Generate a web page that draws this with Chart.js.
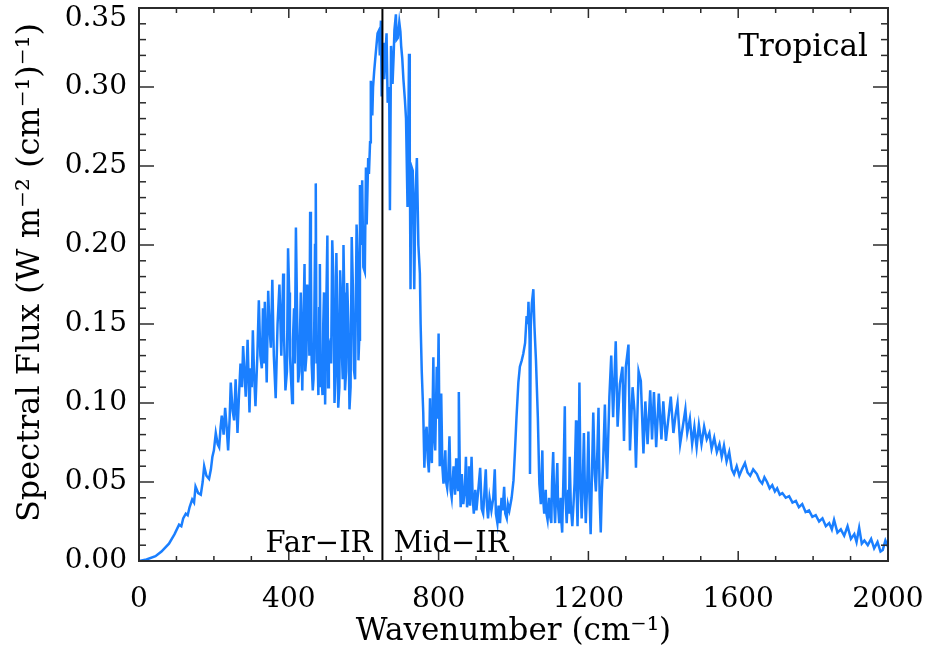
<!DOCTYPE html>
<html>
<head>
<meta charset="utf-8">
<title>Tropical spectral flux</title>
<script src="https://cdn.jsdelivr.net/npm/chart.js@4.4.1/dist/chart.umd.min.js"></script>
<style>
  html, body { margin: 0; padding: 0; background: #fff; }
</style>
</head>
<body>
<canvas id="spectrumChart" width="928" height="651"></canvas>
<script>
// wavenumber (cm-1) and spectral flux (W m-2 (cm-1)-1), 10 per row
const wavenumber = [
  0, 20, 44, 60, 80, 95, 107, 113, 118, 125,
  130, 135, 142, 147, 151, 158, 165, 170, 174, 180,
  187, 192, 196, 200, 205, 210, 214, 218, 221, 226,
  230, 234, 238, 242, 245, 250, 254, 258, 263, 267,
  271, 275, 278, 282, 285, 290, 295, 298, 301, 304,
  307, 311, 316, 320, 324, 328, 331, 333, 336, 341,
  345, 348, 352, 356, 360, 365, 370, 375, 380, 385,
  387, 391, 395, 398, 401, 403, 406, 409, 411, 414,
  416, 419, 422, 425, 428, 432, 434, 436, 439, 442,
  444, 447, 449, 452, 455, 457, 459, 461, 464, 466,
  468, 470, 472, 474, 476, 479, 481, 483, 485, 487,
  490, 492, 494, 497, 500, 503, 505, 507, 510, 513,
  516, 519, 522, 525, 527, 530, 532, 535, 537, 540,
  542, 544, 546, 548, 550, 553, 556, 559, 562, 565,
  568, 571, 574, 577, 581, 584, 586, 588, 590, 593,
  596, 599, 603, 606, 608, 612, 614, 617, 619, 623,
  625, 628, 632, 637, 641, 643, 646, 648, 650, 653,
  655, 658, 661, 664, 668, 670, 673, 677, 680, 682,
  686, 688, 691, 695, 698, 700, 703, 706, 710, 713,
  717, 719, 721, 723, 725, 727, 731, 735, 738, 742,
  746, 750, 752, 755, 759, 762, 765, 768, 771, 774,
  777, 779, 782, 786, 788, 791, 795, 797, 800, 803,
  805, 807, 810, 813, 818, 820, 823, 826, 829, 832,
  835, 840, 844, 847, 849, 852, 854, 857, 859, 862,
  866, 870, 873, 876, 879, 881, 884, 888, 891, 894,
  898, 901, 906, 911, 915, 919, 922, 926, 929, 932,
  936, 941, 946, 950, 953, 957, 960, 964, 968, 971,
  975, 978, 982, 985, 989, 995, 1000, 1004, 1008, 1013,
  1017, 1022, 1026, 1031, 1035, 1038, 1040, 1043, 1044, 1046,
  1049, 1053, 1056, 1060, 1065, 1069, 1073, 1077, 1079, 1082,
  1086, 1088, 1091, 1095, 1098, 1101, 1103, 1106, 1109, 1111,
  1114, 1117, 1119, 1122, 1126, 1128, 1130, 1134, 1137, 1139,
  1142, 1146, 1148, 1150, 1153, 1157, 1160, 1163, 1167, 1169,
  1171, 1174, 1176, 1179, 1182, 1185, 1188, 1191, 1193, 1197,
  1200, 1203, 1206, 1210, 1213, 1217, 1220, 1224, 1227, 1230,
  1233, 1236, 1239, 1244, 1247, 1250, 1256, 1261, 1266, 1273,
  1278, 1284, 1291, 1295, 1300, 1307, 1311, 1318, 1323, 1327,
  1334, 1340, 1347, 1352, 1358, 1365, 1370, 1375, 1381, 1388,
  1395, 1400, 1407, 1414, 1420, 1427, 1433, 1438, 1445, 1452,
  1459, 1464, 1471, 1477, 1483, 1489, 1495, 1502, 1509, 1516,
  1523, 1529, 1536, 1543, 1550, 1556, 1562, 1569, 1576, 1583,
  1589, 1596, 1603, 1610, 1618, 1625, 1632, 1640, 1650, 1657,
  1664, 1670, 1677, 1684, 1691, 1698, 1704, 1711, 1718, 1727,
  1736, 1745, 1754, 1762, 1771, 1780, 1789, 1798, 1807, 1816,
  1825, 1834, 1843, 1850, 1856, 1865, 1874, 1883, 1892, 1901,
  1910, 1916, 1923, 1930, 1937, 1946, 1955, 1963, 1972, 1980,
  1986, 1993, 2000
];
const flux = [
  0.000, 0.001, 0.003, 0.006, 0.011, 0.017, 0.023, 0.022, 0.027, 0.030,
  0.029, 0.034, 0.039, 0.037, 0.047, 0.043, 0.042, 0.050, 0.060, 0.054,
  0.052, 0.058, 0.066, 0.070, 0.081, 0.074, 0.072, 0.085, 0.092, 0.080,
  0.097, 0.085, 0.070, 0.090, 0.113, 0.095, 0.089, 0.115, 0.081, 0.105,
  0.125, 0.110, 0.136, 0.118, 0.104, 0.140, 0.094, 0.122, 0.110, 0.146,
  0.120, 0.098, 0.130, 0.165, 0.130, 0.122, 0.160, 0.125, 0.164, 0.113,
  0.171, 0.150, 0.135, 0.178, 0.130, 0.103, 0.150, 0.175, 0.130, 0.182,
  0.145, 0.108, 0.120, 0.198, 0.170, 0.130, 0.115, 0.100, 0.140, 0.160,
  0.125, 0.211, 0.160, 0.113, 0.120, 0.170, 0.140, 0.108, 0.150, 0.188,
  0.120, 0.130, 0.175, 0.165, 0.130, 0.221, 0.190, 0.125, 0.108, 0.115,
  0.150, 0.200, 0.239, 0.125, 0.140, 0.105, 0.160, 0.188, 0.110, 0.120,
  0.105, 0.150, 0.170, 0.099, 0.160, 0.206, 0.110, 0.135, 0.138, 0.125,
  0.203, 0.180, 0.100, 0.120, 0.195, 0.150, 0.097, 0.110, 0.184, 0.165,
  0.130, 0.115, 0.200, 0.170, 0.108, 0.120, 0.176, 0.150, 0.096, 0.110,
  0.205, 0.175, 0.121, 0.115, 0.213, 0.190, 0.127, 0.140, 0.238, 0.200,
  0.241, 0.186, 0.183, 0.249, 0.213, 0.255, 0.245, 0.265, 0.304, 0.282,
  0.300, 0.310, 0.321, 0.334, 0.336, 0.320, 0.342, 0.294, 0.315, 0.328,
  0.305, 0.320, 0.334, 0.290, 0.300, 0.222, 0.326, 0.302, 0.320, 0.336,
  0.346, 0.330, 0.331, 0.341, 0.335, 0.326, 0.318, 0.305, 0.292, 0.280,
  0.224, 0.270, 0.321, 0.260, 0.172, 0.250, 0.247, 0.172, 0.230, 0.255,
  0.200, 0.182, 0.150, 0.120, 0.094, 0.059, 0.080, 0.085, 0.065, 0.056,
  0.103, 0.070, 0.062, 0.129, 0.080, 0.070, 0.123, 0.090, 0.144, 0.060,
  0.075, 0.106, 0.060, 0.049, 0.070, 0.050, 0.046, 0.055, 0.079, 0.045,
  0.040, 0.060, 0.042, 0.065, 0.050, 0.045, 0.107, 0.050, 0.034, 0.055,
  0.036, 0.045, 0.066, 0.034, 0.040, 0.060, 0.035, 0.066, 0.040, 0.030,
  0.045, 0.032, 0.045, 0.059, 0.033, 0.030, 0.042, 0.058, 0.035, 0.027,
  0.040, 0.032, 0.040, 0.058, 0.030, 0.024, 0.035, 0.024, 0.040, 0.032,
  0.047, 0.030, 0.027, 0.036, 0.032, 0.040, 0.051, 0.070, 0.091, 0.113,
  0.123, 0.127, 0.131, 0.138, 0.155, 0.150, 0.164, 0.140, 0.055, 0.148,
  0.163, 0.172, 0.148, 0.127, 0.091, 0.049, 0.036, 0.070, 0.040, 0.030,
  0.045, 0.030, 0.026, 0.040, 0.028, 0.024, 0.050, 0.069, 0.035, 0.024,
  0.045, 0.062, 0.035, 0.024, 0.040, 0.025, 0.018, 0.060, 0.098, 0.040,
  0.024, 0.045, 0.030, 0.066, 0.035, 0.022, 0.035, 0.049, 0.089, 0.040,
  0.022, 0.060, 0.113, 0.050, 0.027, 0.050, 0.081, 0.040, 0.024, 0.050,
  0.082, 0.040, 0.017, 0.060, 0.094, 0.055, 0.044, 0.070, 0.097, 0.040,
  0.018, 0.045, 0.060, 0.099, 0.070, 0.052, 0.104, 0.130, 0.091, 0.139,
  0.085, 0.112, 0.123, 0.076, 0.123, 0.137, 0.070, 0.110, 0.095, 0.059,
  0.120, 0.114, 0.068, 0.101, 0.074, 0.108, 0.077, 0.107, 0.072, 0.106,
  0.077, 0.101, 0.076, 0.091, 0.104, 0.081, 0.093, 0.100, 0.074, 0.085,
  0.096, 0.081, 0.090, 0.074, 0.085, 0.072, 0.086, 0.074, 0.085, 0.077,
  0.081, 0.071, 0.078, 0.069, 0.074, 0.066, 0.073, 0.063, 0.069, 0.058,
  0.055, 0.060, 0.054, 0.058, 0.062, 0.056, 0.054, 0.058, 0.055, 0.051,
  0.049, 0.053, 0.050, 0.046, 0.048, 0.044, 0.046, 0.042, 0.043, 0.040,
  0.041, 0.037, 0.038, 0.034, 0.036, 0.031, 0.032, 0.028, 0.029, 0.025,
  0.027, 0.022, 0.024, 0.020, 0.026, 0.018, 0.020, 0.016, 0.022, 0.014,
  0.017, 0.012, 0.021, 0.011, 0.013, 0.010, 0.014, 0.008, 0.012, 0.006,
  0.007, 0.013, 0.009
];
const xTicks = [0, 400, 800, 1200, 1600, 2000];
const yTicks = [0, 0.05, 0.10, 0.15, 0.20, 0.25, 0.30, 0.35];
const regionSplit = 650;
const regionLabels = ['Far\u2212IR', 'Mid\u2212IR'];
const panelLabel = 'Tropical';
const yTitle = 'Spectral Flux (W m\u207B\u00B2 (cm\u207B\u00B9)\u207B\u00B9)';

const FONT = '"DejaVu Serif", "Liberation Serif", serif';
const lineBlue = '#1a7fff';
const axisColor = '#2b2b2b';

Chart.defaults.font.family = FONT;
Chart.defaults.font.size = 28;
Chart.defaults.color = '#000';

// frame, inward ticks (mirrored), region line and the text labels
const axisDecor = {
    id: 'axisDecor',
    afterDatasetsDraw(chart) {
        const { ctx, chartArea: a, scales: { x, y } } = chart;
        const seg = (x1, y1, x2, y2) => {
            ctx.beginPath();
            ctx.moveTo(x1, y1);
            ctx.lineTo(x2, y2);
            ctx.stroke();
        };
        ctx.save();

        // Far-IR / Mid-IR split
        ctx.strokeStyle = '#000';
        ctx.lineWidth = 2;
        const sx = x.getPixelForValue(regionSplit);
        seg(sx, a.top, sx, a.bottom);

        ctx.strokeStyle = axisColor;
        ctx.lineWidth = 1.5;
        for (let v = 0; v <= 2000; v += 100) {
            const px = x.getPixelForValue(v);
            const len = v % 400 === 0 ? 10 : 5;
            seg(px, a.bottom, px, a.bottom - len);
            seg(px, a.top, px, a.top + len);
        }
        for (let i = 0; i <= 35; i++) {
            const py = y.getPixelForValue(i / 100);
            const len = i % 5 === 0 ? 15 : 7;
            seg(a.left, py, a.left + len, py);
            seg(a.right, py, a.right - len, py);
        }
        ctx.lineWidth = 2;
        ctx.strokeRect(a.left, a.top, a.right - a.left, a.bottom - a.top);

        ctx.fillStyle = '#000';
        ctx.font = '29px ' + FONT;
        ctx.textBaseline = 'alphabetic';
        ctx.textAlign = 'right';
        ctx.fillText(regionLabels[0], sx - 10, a.bottom - 9);
        ctx.textAlign = 'left';
        ctx.fillText(regionLabels[1], sx + 11, a.bottom - 9);
        ctx.font = '31px ' + FONT;
        ctx.textAlign = 'right';
        ctx.fillText(panelLabel, a.right - 20, a.top + 48);

        // top y label sits just below the frame corner
        ctx.font = '28px ' + FONT;
        ctx.textBaseline = 'middle';
        ctx.fillText(yTicks[yTicks.length - 1].toFixed(2), a.left - 12, y.getPixelForValue(0.35) + 11);

        // y axis title, placed a little above the axis middle as in the figure
        ctx.font = '32px ' + FONT;
        ctx.textAlign = 'center';
        ctx.translate(31, (a.top + a.bottom) / 2 - 12);
        ctx.rotate(-Math.PI / 2);
        ctx.fillText(yTitle, 0, 0);
        ctx.restore();
    }
};

new Chart(document.getElementById('spectrumChart'), {
    type: 'line',
    data: {
        datasets: [{
            data: wavenumber.map((w, i) => ({ x: w, y: flux[i] })),
            borderColor: lineBlue,
            borderWidth: 2.5,
            pointRadius: 0,
            tension: 0,
            fill: false
        }]
    },
    options: {
        responsive: false,
        animation: false,
        devicePixelRatio: 1,
        layout: { padding: { top: 8, right: 40, left: 0, bottom: 0 } },
        plugins: {
            legend: { display: false },
            tooltip: { enabled: false }
        },
        scales: {
            x: {
                type: 'linear',
                min: 0,
                max: 2000,
                afterBuildTicks: (scale) => { scale.ticks = xTicks.map(v => ({ value: v })); },
                afterFit: (scale) => {
                    scale.height = 90;
                    scale.paddingLeft = 0;
                    scale.paddingRight = 0;
                },
                grid: { display: false, drawTicks: false },
                border: { display: false },
                ticks: { padding: 22, maxRotation: 0, color: '#000', callback: (v) => String(v) },
                title: {
                    display: true,
                    text: 'Wavenumber (cm\u207B\u00B9)',
                    color: '#000',
                    font: { size: 31 },
                    padding: { top: 0, bottom: 0 }
                }
            },
            y: {
                min: 0,
                max: 0.35,
                afterBuildTicks: (scale) => { scale.ticks = yTicks.map(v => ({ value: v })); },
                afterFit: (scale) => {
                    scale.width = 139;
                    scale.paddingTop = 0;
                    scale.paddingBottom = 0;
                },
                grid: { display: false, drawTicks: false },
                border: { display: false },
                ticks: {
                    padding: 12,
                    color: '#000',
                    callback: (v) => (v >= 0.349 ? '' : v.toFixed(2))
                }
            }
        }
    },
    plugins: [axisDecor]
});
</script>
</body>
</html>
